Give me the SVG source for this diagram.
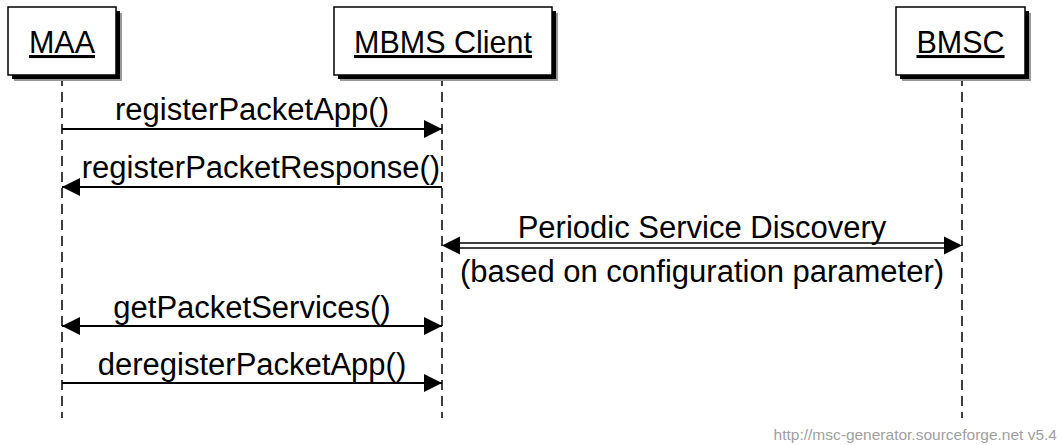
<svg xmlns="http://www.w3.org/2000/svg" width="1061" height="445" viewBox="0 0 1061 445">
<style>
text{font-family:"Liberation Sans",Arial,sans-serif;fill:#000}
.ent{font-size:30.5px;text-anchor:middle;text-decoration:underline}
.lbl{font-size:31px;text-anchor:middle}
.box{fill:#fff;stroke:#000;stroke-width:1.5}
.sh1{fill:#999}
.sh2{fill:#000}
.life{stroke:#000;stroke-width:1.5;stroke-dasharray:10 6;fill:none}
.arr{stroke:#000;stroke-width:2;fill:none}
.dbl{stroke:#000;stroke-width:1.6;fill:none}
.foot{font-size:15.5px;fill:#a0a0a0;text-anchor:end}
</style>
<defs>
<marker id="ah" viewBox="0 0 18 18" refX="18" refY="9" markerWidth="18" markerHeight="18" markerUnits="userSpaceOnUse" orient="auto-start-reverse">
<path d="M0,0 L18,9 L0,18 z" fill="#000"/>
</marker>
</defs>
<g id="lifelines">
<line class="life" x1="62" y1="76" x2="62" y2="418"/>
<line class="life" x1="442" y1="76" x2="442" y2="418"/>
<line class="life" x1="962" y1="76" x2="962" y2="418"/>
</g>
<g id="MAA">
<rect class="sh1" x="14" y="13" width="108" height="68"/>
<rect class="sh2" x="12" y="11" width="108" height="68"/>
<rect class="box" x="8" y="7" width="108" height="68"/>
<text class="ent" x="62" y="53">MAA</text>
</g>
<g id="MBMSClient">
<rect class="sh1" x="340" y="13" width="218" height="68"/>
<rect class="sh2" x="338" y="11" width="218" height="68"/>
<rect class="box" x="334" y="7" width="218" height="68"/>
<text class="ent" x="443" y="53">MBMS Client</text>
</g>
<g id="BMSC">
<rect class="sh1" x="902" y="13" width="129" height="68"/>
<rect class="sh2" x="900" y="11" width="129" height="68"/>
<rect class="box" x="896" y="7" width="129" height="68"/>
<text class="ent" x="960.5" y="53">BMSC</text>
</g>
<g id="connectors">
<line class="arr" x1="62" y1="129" x2="442" y2="129" marker-end="url(#ah)"/>
<text class="lbl" x="252" y="120">registerPacketApp()</text>
<line class="arr" x1="442" y1="187" x2="62" y2="187" marker-end="url(#ah)"/>
<text class="lbl" x="261" y="178">registerPacketResponse()</text>
<line class="dbl" x1="458" y1="243" x2="946" y2="243"/>
<line class="dbl" x1="458" y1="248" x2="946" y2="248"/>
<path d="M442,245.5 L460,236.5 L460,254.5 z" fill="#000"/>
<path d="M962,245.5 L944,236.5 L944,254.5 z" fill="#000"/>
<text class="lbl" x="702" y="238">Periodic Service Discovery</text>
<text class="lbl" x="702" y="282">(based on configuration parameter)</text>
<line class="arr" x1="62" y1="326" x2="442" y2="326" marker-start="url(#ah)" marker-end="url(#ah)"/>
<text class="lbl" x="252" y="318">getPacketServices()</text>
<line class="arr" x1="62" y1="383" x2="442" y2="383" marker-end="url(#ah)"/>
<text class="lbl" x="252" y="375">deregisterPacketApp()</text>
</g>
<text class="foot" x="1057" y="440">http://msc-generator.sourceforge.net v5.4</text>
</svg>
